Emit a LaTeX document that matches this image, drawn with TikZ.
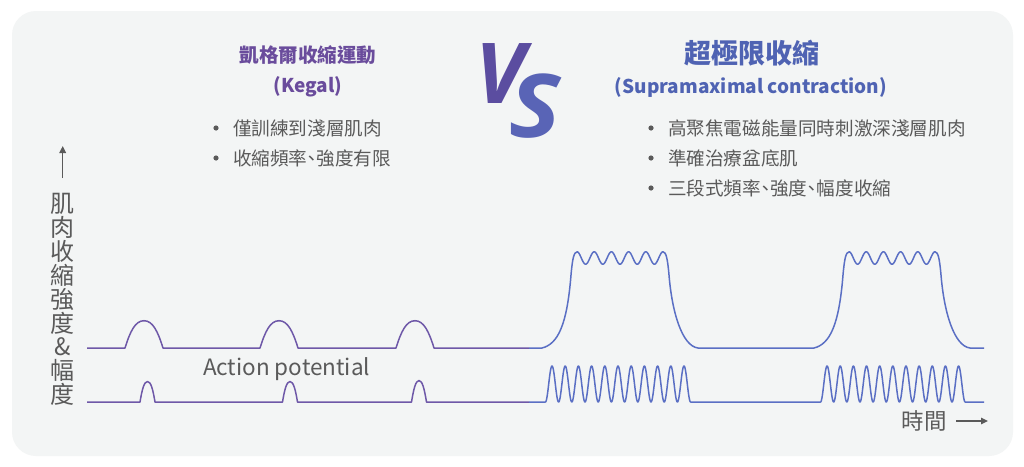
\documentclass[tikz,border=0pt]{standalone}
\usepackage{fontspec}
\setmainfont{Noto Sans CJK TC}
\newfontfamily\vsfont{Open Sans}
\usetikzlibrary{arrows.meta}
\definecolor{bgcol}{HTML}{F3F5F5}
\definecolor{kpurple}{HTML}{6A4C9C}
\definecolor{sblue}{HTML}{4F63B3}
\definecolor{txtcol}{HTML}{5A5A5A}
\definecolor{kline}{HTML}{6E58A8}
\definecolor{sline}{HTML}{5A6FC4}
\definecolor{vcol}{HTML}{5B4DA0}
\definecolor{scol}{HTML}{5964B6}
\newcommand\narrowcomma{\kern-0.25em、\kern-0.25em}
\begin{document}
\begin{tikzpicture}[x=1pt,y=-1pt,
  every node/.style={inner sep=0pt,outer sep=0pt},
  bodytext/.style={text=txtcol,font=\fontsize{18.6}{18.6}\selectfont,anchor=west},
  dotmark/.style={fill=txtcol},
  kwave/.style={draw=kline,line width=1.5pt,line join=round},
  swave/.style={draw=sline,line width=1.5pt,line join=round},
  axisarrow/.style={draw=txtcol,line width=1.4pt,-{Triangle[length=7pt,width=6.5pt]}}]
\useasboundingbox (0,0) rectangle (1024,466);
\fill[white] (0,0) rectangle (1024,466);
\fill[bgcol,rounded corners=24pt] (12,11) rectangle (1013,456);

% titles
\node[text=kpurple,font=\bfseries\fontsize{19.5}{19.5}\selectfont] (ktitle) at (308,55) {凱格爾收縮運動};
\node[text=kpurple,font=\bfseries\fontsize{19}{19}\selectfont] (ksub) at (308,87) {(Kegal)};
\node[text=sblue,font=\bfseries\fontsize{27}{27}\selectfont] (stitle) at (752,53) {超極限收縮};
\node[text=sblue,font=\bfseries\fontsize{19}{19}\selectfont] (ssub) at (751,87) {(Supramaximal contraction)};

% VS
\node[text=vcol,font=\vsfont\bfseries\itshape\fontsize{84}{84}\selectfont,anchor=base] (vsv) at (500,103) {V};
\node[text=scol,font=\vsfont\bfseries\itshape\fontsize{88}{88}\selectfont,anchor=base,xscale=1.1,transform shape] (vss) at (535,137) {S};

% bullets left
\fill[dotmark] (216,128) circle (2.6);
\fill[dotmark] (216,158) circle (2.6);
\node[bodytext] (kb1) at (233,128) {僅訓練到淺層肌肉};
\node[bodytext] (kb2) at (233,158) {收縮頻率\narrowcomma 強度有限};

% bullets right
\fill[dotmark] (651,128) circle (2.6);
\fill[dotmark] (651,158) circle (2.6);
\fill[dotmark] (651,188) circle (2.6);
\node[bodytext] (sb1) at (668,128) {高聚焦電磁能量同時刺激深淺層肌肉};
\node[bodytext] (sb2) at (668,158) {準確治療盆底肌};
\node[bodytext] (sb3) at (668,188) {三段式頻率\narrowcomma 強度\narrowcomma 幅度收縮};

% y axis
\coordinate (ya) at (62.7,178);
\coordinate (yb) at (62.7,146);
\draw[axisarrow] (ya) -- (yb);
\node[text=txtcol,font=\fontsize{24}{23.9}\selectfont,align=center] (ylab) at (62.7,299.5) {肌\\肉\\收\\縮\\強\\度\\\&\\幅\\度};

% x axis
\node[text=txtcol,font=\fontsize{22.5}{22.5}\selectfont] (xlab) at (924,421) {時間};
\coordinate (xa) at (956,421);
\coordinate (xb) at (988,421);
\draw[axisarrow] (xa) -- (xb);

% action potential label
\node[text=txtcol,font=\fontsize{22.5}{22.5}\selectfont,anchor=base west] (aplab) at (203,375.5) {Action potential};

% Kegal upper trace
\draw[kwave] (87,348) -- (125,348)
  .. controls (130,332) and (135,320.7) .. (144,320.7)
  .. controls (153,320.7) and (158,332) .. (163,348) -- (260,348)
  .. controls (265,332) and (270,320.7) .. (279,320.7)
  .. controls (288,320.7) and (293,332) .. (298,348) -- (396,348)
  .. controls (401,332) and (406,320.7) .. (415,320.7)
  .. controls (424,320.7) and (429,332) .. (434,348) -- (529,348);

% Kegal lower trace
\draw[kwave] (87,402) -- (140,402)
  .. controls (142,390) and (144,381.5) .. (147.5,381.5)
  .. controls (151,381.5) and (153,390) .. (155,402) -- (282.5,402)
  .. controls (284.5,390) and (286.5,381.5) .. (290,381.5)
  .. controls (293.5,381.5) and (295.5,390) .. (297.5,402) -- (411.5,402)
  .. controls (413.5,390) and (415.5,380.5) .. (419,380.5)
  .. controls (422.5,380.5) and (424.5,390) .. (426.5,402) -- (529,402);

% Supramaximal upper trace
\draw[swave] (529,348) -- (542,348)
  .. controls (558,344) and (567,325) .. (571,275)
  .. controls (572.5,258) and (574,252) .. (577,252)
  -- plot[domain=577:663,samples=200] (\x,{258-6.2*cos(20.9302*(\x-577))})
  .. controls (666,252) and (667.5,258) .. (669,275)
  .. controls (672,312) and (682,346) .. (698,348) -- (814,348)
  .. controls (830,344) and (839,325) .. (843,275)
  .. controls (844.5,258) and (846,252) .. (849,252)
  -- plot[domain=849:935,samples=200] (\x,{258-6.2*cos(20.9302*(\x-849))})
  .. controls (938,252) and (939.5,258) .. (941,275)
  .. controls (944,312) and (954,346) .. (970,348) -- (984,348);

% Supramaximal lower trace
\draw[swave] (529,402) -- (545.4,402)
  -- plot[domain=545.4:690.6,samples=400] (\x,{402-18*(1-cos(27.2727*(\x-545.4)))})
  -- (820.5,402)
  -- plot[domain=820.5:965.15,samples=400] (\x,{402-18*(1-cos(27.3764*(\x-820.5)))})
  -- (984,402);
\end{tikzpicture}
\end{document}
